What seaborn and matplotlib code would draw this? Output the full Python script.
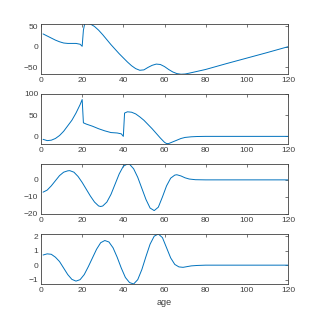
import numpy as np
import pandas as pd
import matplotlib
matplotlib.use("Agg")
import matplotlib.pyplot as plt
import seaborn as sns

# panel 1
age1 = [1, 3, 5, 7, 9, 11, 13, 15, 17, 19, 20, 20.6, 21.2, 22, 24, 26, 28, 30, 32, 34, 36, 38,
        40, 42, 44, 46, 48, 50, 52, 54, 56, 58, 60, 62, 64, 66, 68, 70, 72, 80, 90, 100, 110, 120]
val1 = [31, 26, 21, 16, 12, 9, 8, 8, 8, 6, 1, 40, 55, 57, 55, 49, 40, 29, 17, 5, -6, -17,
        -27, -37, -46, -53, -57, -56, -50, -45, -42, -43, -48, -55, -61, -65, -66.5, -66, -64,
        -55, -41, -27.5, -14, 0]

# panel 2
age2 = [1, 3, 5, 7, 9, 11, 13, 15, 17, 19, 20, 20.6, 22, 25, 28, 31, 34, 37, 39, 40, 40.6,
        42, 44, 46, 48, 50, 52, 54, 56, 58, 60, 61, 62, 64, 66, 68, 70, 73, 76, 80, 120]
val2 = [-7, -10, -9, -5, 2, 12, 25, 38, 55, 75, 87, 32, 29, 24, 18, 13, 9, 8, 6, 0, 55,
        58, 57, 53, 46, 38, 28, 18, 7, -4, -14, -17, -17, -13, -9, -5, -2.5, -1, -0.3, 0, 0]

# panel 3
age3 = [1, 3, 5, 7, 9, 11, 13, 14, 16, 18, 20, 22, 24, 26, 28, 29, 30, 32, 34, 36, 38, 40,
        42, 43, 45, 47, 49, 51, 53, 55, 57, 59, 61, 63, 65, 66, 68, 70, 72, 75, 80, 120]
val3 = [-7.2, -6, -3.5, -0.5, 2.5, 4.5, 5.3, 5.4, 4.5, 2, -1.5, -5.5, -9.5, -13, -15.3, -15.6,
        -15.3, -13, -8.5, -2.5, 3.5, 8, 9.3, 9.2, 6.5, 1.5, -5, -11.5, -16.5, -18, -16, -10,
        -3.5, 1, 2.8, 3, 2.3, 1.2, 0.5, 0.1, 0, 0]

# panel 4
age4 = [1, 3, 5, 7, 9, 11, 13, 15, 17, 19, 21, 23, 25, 27, 29, 31, 33, 35, 37, 39, 41, 43,
        45, 47, 49, 51, 53, 55, 57, 59, 61, 63, 65, 67, 69, 71, 73, 76, 80, 120]
val4 = [0.7, 0.78, 0.75, 0.55, 0.25, -0.2, -0.65, -0.98, -1.1, -1.0, -0.65, -0.1, 0.5, 1.1,
        1.55, 1.7, 1.6, 1.2, 0.55, -0.2, -0.85, -1.2, -1.3, -1.0, -0.3, 0.6, 1.45, 2.0, 2.15,
        1.9, 1.2, 0.5, 0.05, -0.12, -0.15, -0.1, -0.05, -0.02, 0, 0]

panels = [(age1, val1), (age2, val2), (age3, val3), (age4, val4)]
ylims = [(-66, 55), (-18, 100), (-20, 9.3), (-1.3, 2.15)]
yticks = [[-50, 0, 50], [0, 50, 100], [-20, -10, 0], [-1, 0, 1, 2]]

sns.set_style("white")
plt.rcParams["font.family"] = ["Liberation Sans Narrow", "Liberation Sans", "DejaVu Sans"]
grey = "#404040"

fig = plt.figure(figsize=(3.19, 3.19), dpi=100)
tops = [24, 94, 164, 234]
h = 50
for i, (a, v) in enumerate(panels):
    ax = fig.add_axes([41 / 319, 1 - (tops[i] + h) / 319, 247 / 319, h / 319])
    df = pd.DataFrame({"age": a, "value": v})
    sns.lineplot(data=df, x="age", y="value", ax=ax, color="#0072BD", lw=0.7)
    ax.set_xlim(0, 120)
    ax.set_ylim(*ylims[i])
    ax.set_xticks([0, 20, 40, 60, 80, 100, 120])
    ax.set_yticks(yticks[i])
    ax.set_xlabel("")
    ax.set_ylabel("")
    ax.tick_params(direction="in", length=2.5, width=0.5, labelsize=6,
                   colors=grey, top=True, right=True, pad=2)
    for s in ax.spines.values():
        s.set_linewidth(0.6)
        s.set_color(grey)
    if i == 3:
        ax.set_xlabel("age", fontsize=6.5, color=grey, labelpad=3)

fig.savefig("out.png", dpi=100)
